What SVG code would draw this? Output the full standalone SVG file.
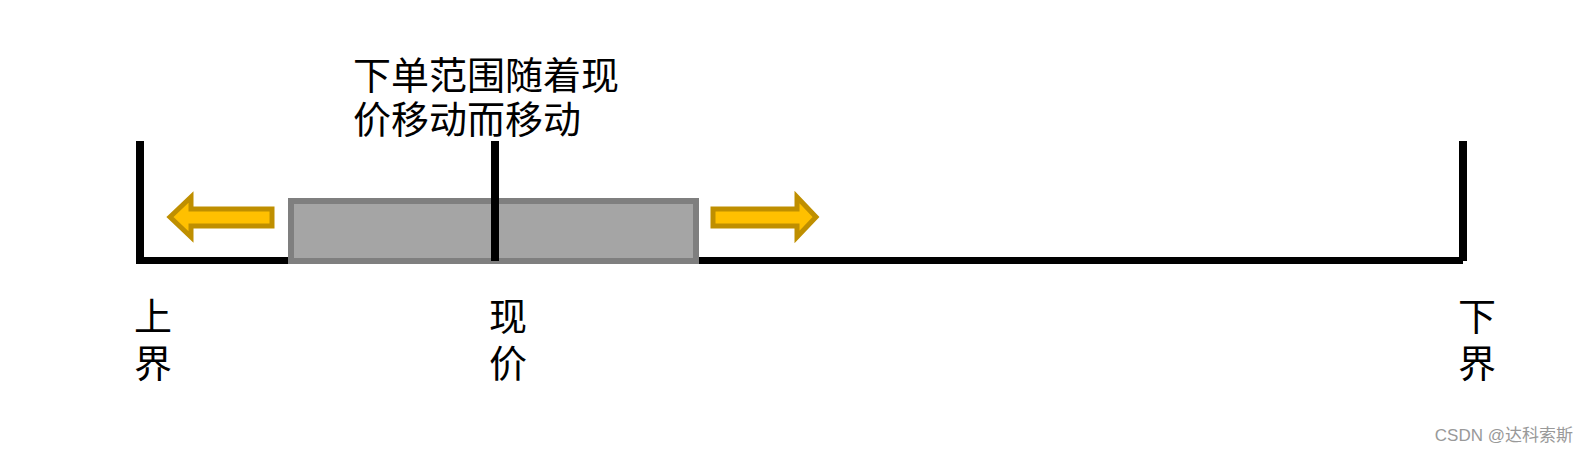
<svg xmlns="http://www.w3.org/2000/svg" width="1588" height="454" viewBox="0 0 1588 454">
<style>
.lbl{font-family:"Noto Sans CJK SC","Noto Sans CJK JP",sans-serif;font-size:38px;fill:#000}
.bar{stroke:#000;stroke-width:8;fill:none}
.arr{fill:#FFC000;stroke:#BF8F00;stroke-width:5;stroke-linejoin:miter}
.wm{font-family:"Liberation Sans","Noto Sans CJK SC",sans-serif;font-size:17px;fill:#999}
</style>
<rect width="1588" height="454" fill="#fff"/>
<g id="axis">
<line class="bar" x1="136" y1="260.5" x2="1463" y2="260.5" style="stroke-width:7"/>
<line class="bar" x1="140" y1="141" x2="140" y2="261"/>
<line class="bar" x1="1463" y1="141" x2="1463" y2="261"/>
</g>
<g id="range-box">
<rect x="291" y="201" width="405" height="60" fill="#A5A5A5" stroke="#7F7F7F" stroke-width="6"/>
</g>
<g id="current-price-mark">
<line class="bar" x1="495" y1="141" x2="495" y2="261"/>
</g>
<g id="connectors">
<polygon id="arrow-left" class="arr" points="170,217 191,197 191,209 272,209 272,226 191,226 191,237"/>
<polygon id="arrow-right" class="arr" points="713,209 797,209 797,197 816,217 797,237 797,226 713,226"/>
</g>
<g id="title">
<text class="lbl" x="353" y="89">下单范围随着现</text>
<text class="lbl" x="353" y="133">价移动而移动</text>
</g>
<g id="label-upper">
<text class="lbl" x="134" y="330">上</text>
<text class="lbl" x="134" y="377">界</text>
</g>
<g id="label-current">
<text class="lbl" x="489" y="330">现</text>
<text class="lbl" x="489" y="377">价</text>
</g>
<g id="label-lower">
<text class="lbl" x="1458" y="330">下</text>
<text class="lbl" x="1458" y="377">界</text>
</g>
<text class="wm" x="1573" y="441" text-anchor="end">CSDN @达科索斯</text>
</svg>
